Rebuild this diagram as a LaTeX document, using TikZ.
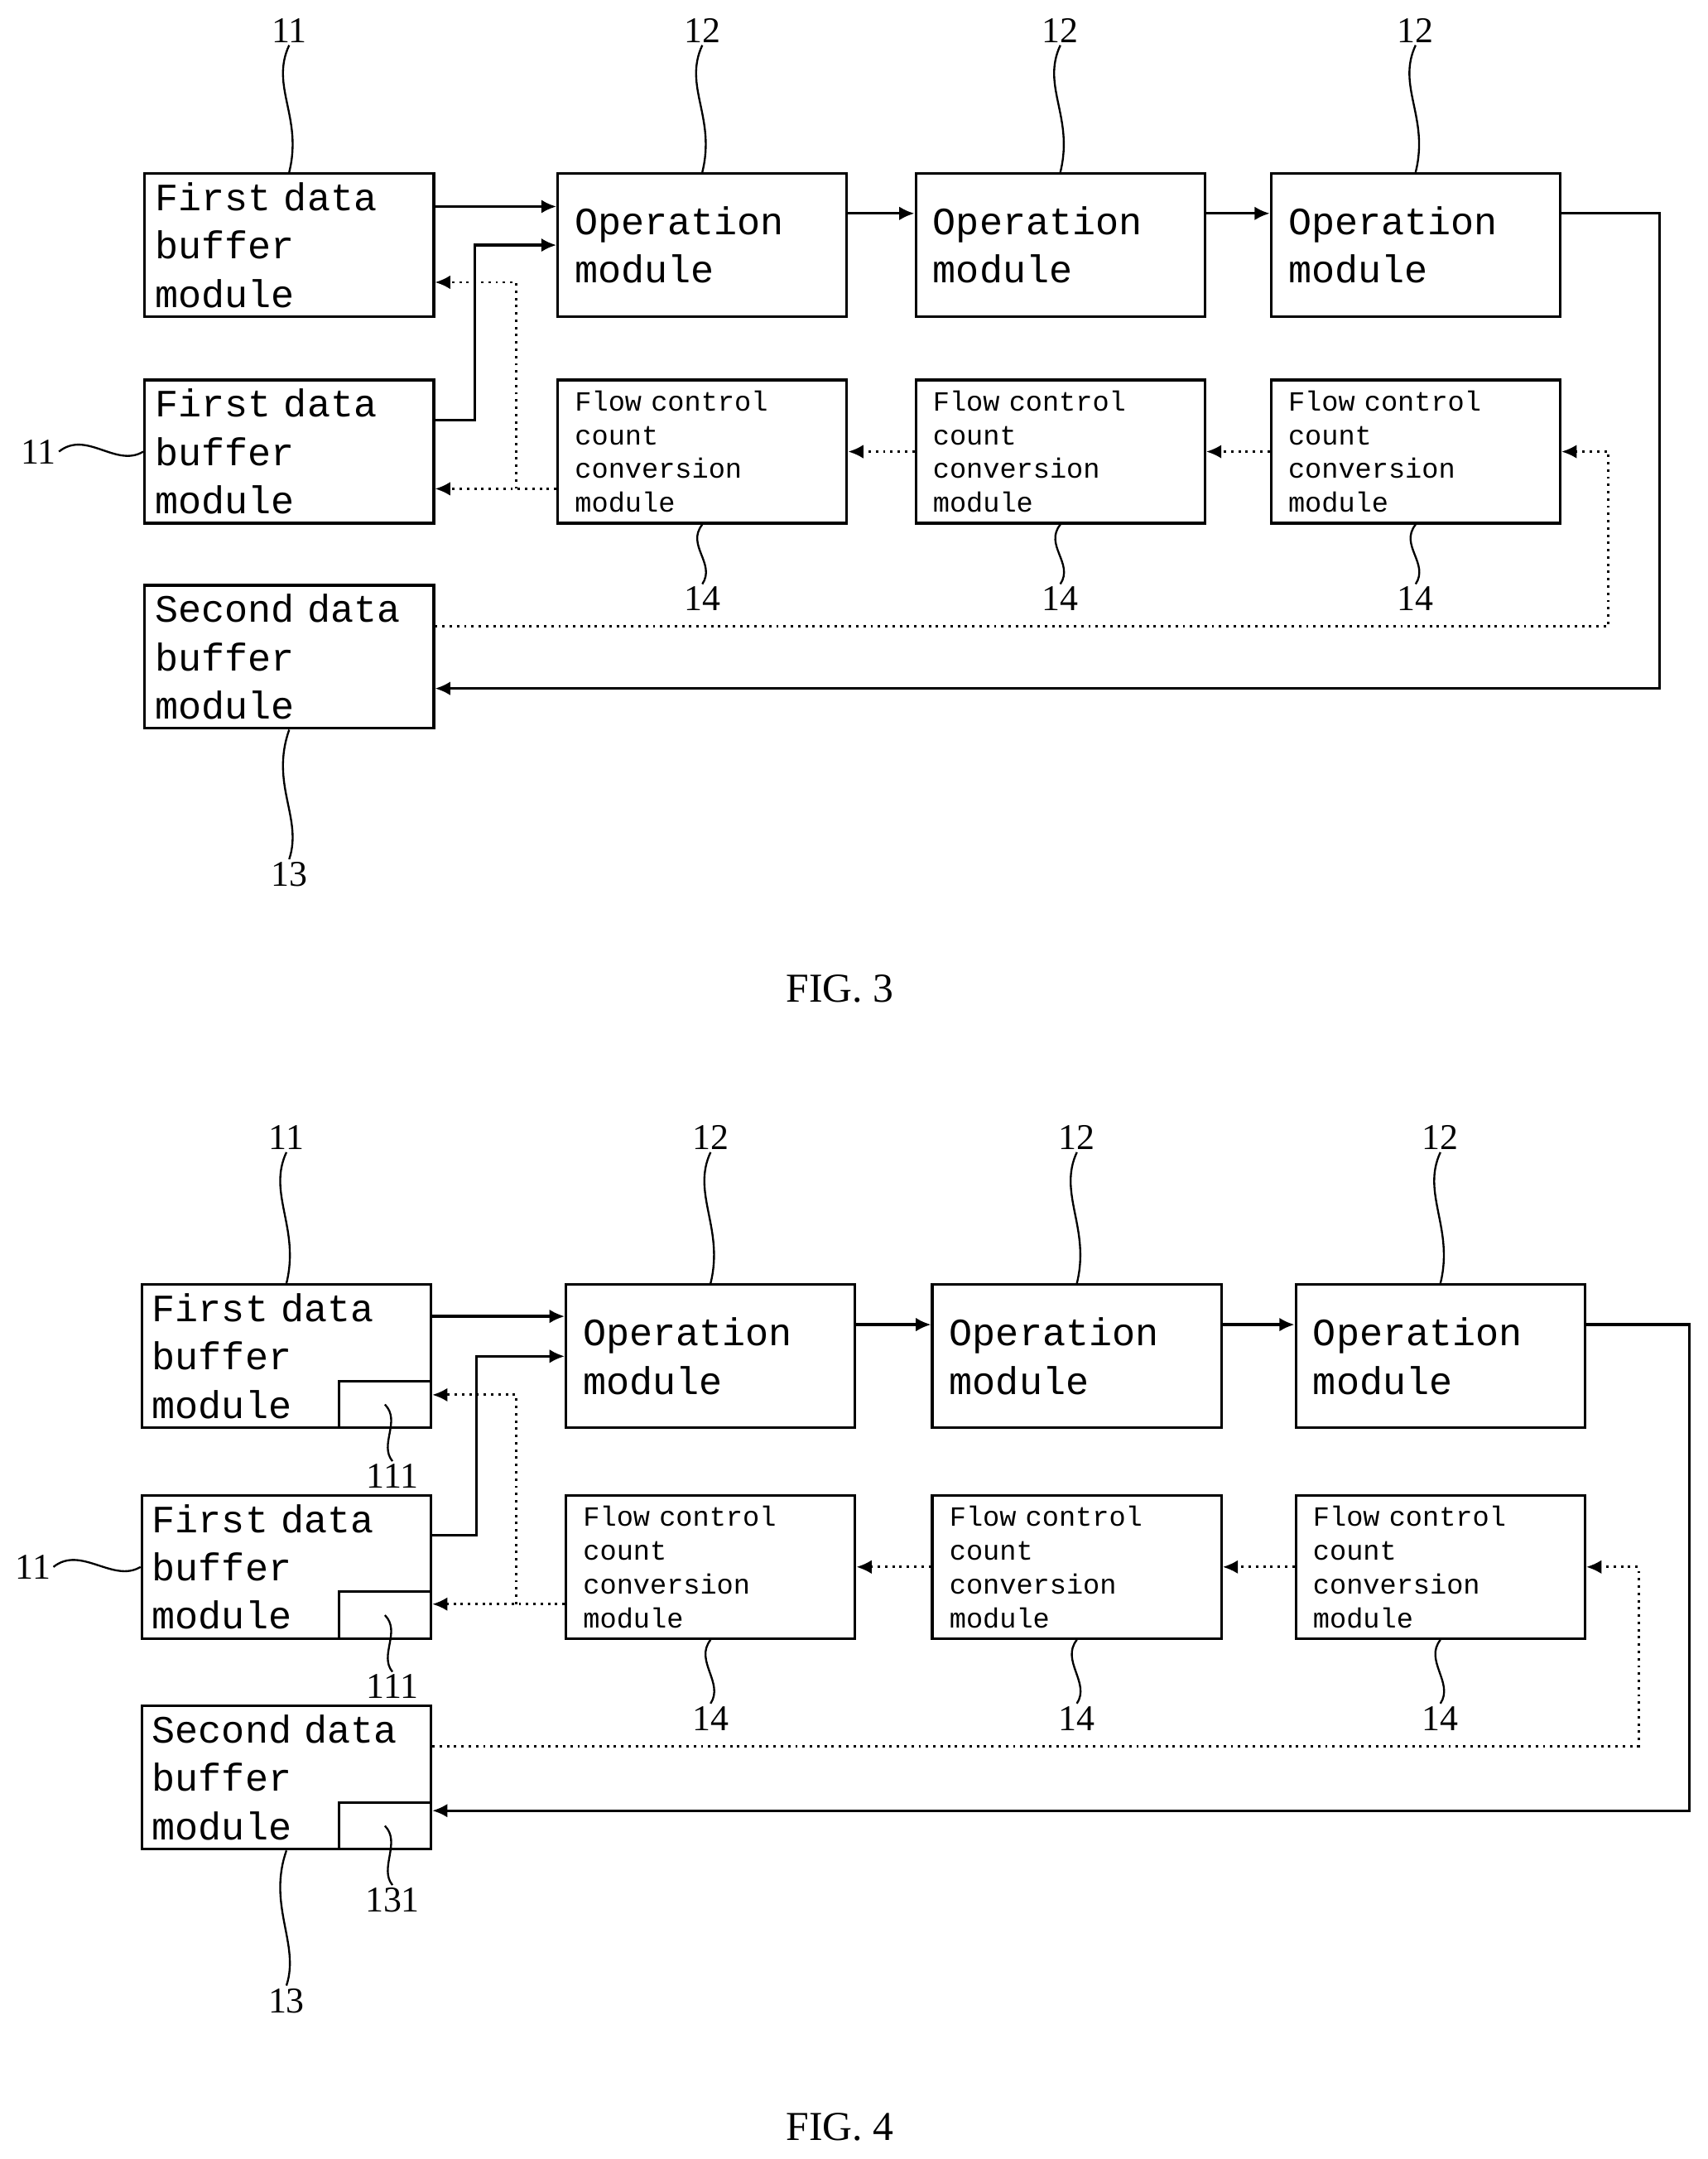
\documentclass[tikz,border=0pt]{standalone}
\usepackage{fontspec}
\setmainfont{Liberation Serif}
\setmonofont{Liberation Mono}
\usetikzlibrary{arrows.meta}
\tikzset{
  box/.style={draw, line width=1.1pt, minimum width=4.2cm, minimum height=2.08cm, inner sep=0pt},
  btext/.style={font=\ttfamily\fontsize{16}{20}\selectfont, align=left, text width=3.9cm},
  ftext/.style={font=\ttfamily\fontsize{11.5}{14}\selectfont, align=left, text width=3.9cm},
  sub/.style={draw, line width=1.1pt, minimum width=1.34cm, minimum height=0.68cm, inner sep=0pt, anchor=south east},
  num/.style={font=\fontsize{15}{15}\selectfont, inner sep=1pt},
  arrow/.style={line width=1.1pt, -{Latex[length=2.2mm, width=2mm]}},
  darrow/.style={line width=1pt, dotted, -{Latex[length=2.2mm, width=2mm]}},
  lead/.style={line width=0.8pt},
}
\begin{document}
\begin{tikzpicture}[x=0.02cm, y=-0.02cm]
  \useasboundingbox (0,0) rectangle (1240,1568);

  % ---------- FIG. 3 ----------
  % Nodes
  \node (fa3) [box, btext] at (210,178) {First data\\ buffer\\ module};
  \node (fb3) [box, btext] at (210,328) {First data\\ buffer\\ module};
  \node (sd3) [box, btext] at (210,477) {Second data\\ buffer\\ module};
  \foreach \i/\x in {1/510, 2/770, 3/1028} {
    \node (op3\i) [box, btext, text width=3.7cm] at (\x,178) {Operation\\ module};
    \node (fc3\i) [box, ftext, text width=3.7cm] at (\x,328) {Flow control\\ count\\ conversion\\ module};
    \node (n12c\i) [num] at (\x,22) {12};
    \node (n14c\i) [num] at (\x,435) {14};
    \draw [lead] (n12c\i.south) .. controls +(-14,30) and +(10,-40) .. (op3\i.north);
    \draw [lead] (fc3\i.south) .. controls +(-12,15) and +(10,-15) .. (n14c\i.north);
  }
  \node (n11a3) [num] at (210,22) {11};
  \node (n11b3) [num] at (28,328) {11};
  \node (n13c) [num] at (210,635) {13};
  \node (fig3) [font=\fontsize{17}{17}\selectfont] at (610,718) {FIG. 3};
  \draw [lead] (n11a3.south) .. controls +(-14,30) and +(10,-40) .. (fa3.north);
  \draw [lead] (n11b3.east) .. controls +(20,-16) and +(-20,12) .. (fb3.west);
  \draw [lead] (sd3.south) .. controls +(-14,40) and +(10,-30) .. (n13c.north);

  % Lines
  \draw [arrow] (fa3.east |- 0,150) -- (op31.west |- 0,150);
  \draw [arrow] (fb3.east |- 0,305) -| (345,178) -- (op31.west |- 0,178);
  \draw [arrow] (op31.east |- 0,155) -- (op32.west |- 0,155);
  \draw [arrow] (op32.east |- 0,155) -- (op33.west |- 0,155);
  \draw [arrow] (op33.east |- 0,155) -| (1205,500) -- (sd3.east |- 0,500);
  \draw [darrow] (sd3.east |- 0,455) -| (1168,328) -- (fc33.east);
  \draw [darrow] (fc33.west) -- (fc32.east);
  \draw [darrow] (fc32.west) -- (fc31.east);
  \draw [darrow] (fc31.west |- 0,355) -- (fb3.east |- 0,355);
  \draw [darrow] (375,355) |- (fa3.east |- 0,205);

  % ---------- FIG. 4 ----------
  % Nodes
  \node (fa4) [box, btext] at (208,985) {First data\\ buffer\\ module};
  \node (fb4) [box, btext] at (208,1138) {First data\\ buffer\\ module};
  \node (sd4) [box, btext] at (208,1291) {Second data\\ buffer\\ module};
  \node (fa4s) [sub] at (fa4.south east) {};
  \node (fb4s) [sub] at (fb4.south east) {};
  \node (sd4s) [sub] at (sd4.south east) {};
  \foreach \i/\x in {1/516, 2/782, 3/1046} {
    \node (op4\i) [box, btext, text width=3.7cm] at (\x,985) {Operation\\ module};
    \node (fc4\i) [box, ftext, text width=3.7cm] at (\x,1138) {Flow control\\ count\\ conversion\\ module};
    \node (n12d\i) [num] at (\x,826) {12};
    \node (n14d\i) [num] at (\x,1248) {14};
    \draw [lead] (n12d\i.south) .. controls +(-14,30) and +(10,-40) .. (op4\i.north);
    \draw [lead] (fc4\i.south) .. controls +(-12,15) and +(10,-15) .. (n14d\i.north);
  }
  \node (n11a4) [num] at (208,826) {11};
  \node (n11b4) [num] at (24,1138) {11};
  \node (n13d) [num] at (208,1453) {13};
  \node (n111a) [num] at (285,1072) {111};
  \node (n111b) [num] at (285,1225) {111};
  \node (n131) [num] at (285,1380) {131};
  \node (fig4) [font=\fontsize{17}{17}\selectfont] at (610,1545) {FIG. 4};
  \draw [lead] (n11a4.south) .. controls +(-14,30) and +(10,-40) .. (fa4.north);
  \draw [lead] (n11b4.east) .. controls +(20,-16) and +(-20,12) .. (fb4.west);
  \draw [lead] (sd4.south) .. controls +(-14,40) and +(10,-30) .. (n13d.north);
  \draw [lead] (fa4s.center) .. controls +(12,12) and +(-10,-12) .. (n111a.north);
  \draw [lead] (fb4s.center) .. controls +(12,12) and +(-10,-12) .. (n111b.north);
  \draw [lead] (sd4s.center) .. controls +(12,12) and +(-10,-12) .. (n131.north);

  % Lines
  \draw [arrow] (fa4.east |- 0,956) -- (op41.west |- 0,956);
  \draw [arrow] (fb4.east |- 0,1115) -| (346,985) -- (op41.west |- 0,985);
  \draw [arrow] (op41.east |- 0,962) -- (op42.west |- 0,962);
  \draw [arrow] (op42.east |- 0,962) -- (op43.west |- 0,962);
  \draw [arrow] (op43.east |- 0,962) -| (1227,1315) -- (sd4.east |- 0,1315);
  \draw [darrow] (sd4.east |- 0,1268) -| (1190,1138) -- (fc43.east);
  \draw [darrow] (fc43.west) -- (fc42.east);
  \draw [darrow] (fc42.west) -- (fc41.east);
  \draw [darrow] (fc41.west |- 0,1165) -- (fb4.east |- 0,1165);
  \draw [darrow] (375,1165) |- (fa4.east |- 0,1013);
\end{tikzpicture}
\end{document}
